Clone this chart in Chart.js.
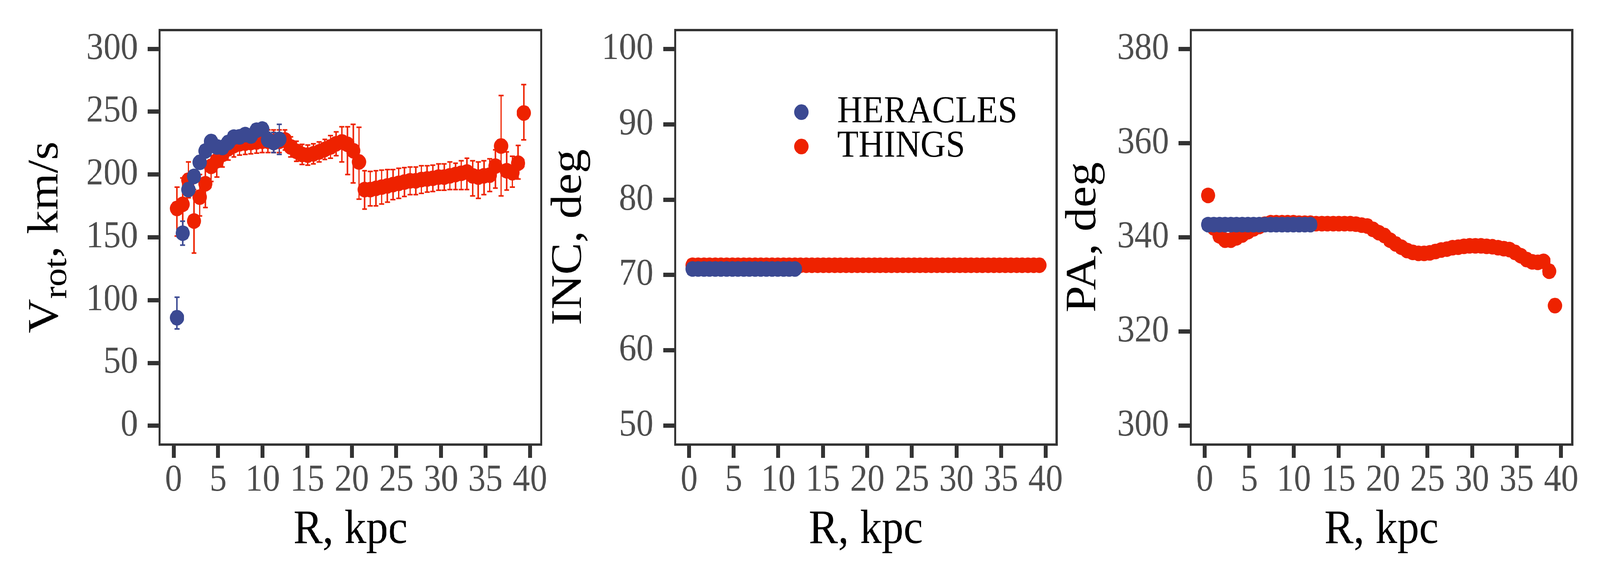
<!DOCTYPE html>
<html>
<head>
<meta charset="utf-8">
<script src="https://cdn.jsdelivr.net/npm/chart.js@4.4.1/dist/chart.umd.min.js"></script>
<style>
    html, body { margin: 0; padding: 0; background: #ffffff; overflow: hidden; }
    #wrap { position: relative; width: 4500px; height: 1500px; overflow: hidden; background: #ffffff; transform-origin: 0 0; }
    #wrap canvas { position: absolute; top: 0; }
</style>
</head>
<body>
<div id="wrap">
    <canvas id="chart1" width="1600" height="1500" style="left:0px"></canvas>
    <canvas id="chart2" width="1600" height="1500" style="left:1450px"></canvas>
    <canvas id="chart3" width="1600" height="1500" style="left:2900px"></canvas>
</div>
<script>
// radii, kpc
const rThings = [
    0.38, 1.02, 1.66, 2.29, 2.93, 3.57, 4.21, 4.85, 5.48, 6.12,
    6.76, 7.40, 8.04, 8.67, 9.31, 9.95, 10.59, 11.23, 11.86, 12.50,
    13.14, 13.78, 14.42, 15.05, 15.69, 16.33, 16.97, 17.61, 18.24, 18.88,
    19.52, 20.16, 20.80, 21.43, 22.07, 22.71, 23.35, 23.99, 24.62, 25.26,
    25.90, 26.54, 27.18, 27.81, 28.45, 29.09, 29.73, 30.37, 31.00, 31.64,
    32.28, 32.92, 33.56, 34.19, 34.83, 35.47, 36.11, 36.75, 37.38, 38.02,
    38.66, 39.30
];
const rHeracles = [
    0.38, 1.02, 1.66, 2.29, 2.93, 3.57, 4.21, 4.85, 5.48, 6.12,
    6.76, 7.40, 8.04, 8.67, 9.31, 9.95, 10.59, 11.23, 11.86
];

// rotation velocity, km/s
const vThings = [
    173, 176.3, 195.5, 163, 182, 192.7, 206.5, 211, 216, 220.5,
    223, 224.5, 225, 225.5, 226, 226.5, 226.5, 226.5, 226.5, 227.5,
    222, 218.5, 216, 215.5, 216.5, 218, 220, 222, 224.5, 226,
    224, 219, 210, 188, 188, 189, 190, 191, 192, 193,
    194, 195, 195, 196, 196.5, 197, 198, 198, 199, 200,
    201, 202, 199, 198, 199, 199.5, 206.7, 222.7, 203, 201.5,
    209, 249
];
const vThingsErrLo = [
    22, 20, 14, 25.5, 15, 19, 12, 13, 10, 9,
    9, 9, 9, 9, 9, 9, 9, 9, 9, 8,
    8, 8, 8, 8, 8, 8, 8, 9, 9.5, 16,
    24, 25.7, 29.6, 15.5, 13, 14, 13.5, 13, 12, 12,
    11.5, 11, 11, 11, 10.5, 10.5, 10.5, 10.5, 11, 12,
    13, 14, 16, 17, 15, 13, 17.5, 39.7, 15.4, 11.5,
    12.6, 21.4
];
const vThingsErrHi = [
    17, 21, 14.5, 25, 18, 15, 12, 12, 10, 9,
    9, 9, 9, 9, 9, 9, 9, 9, 9, 8,
    8, 8, 8, 8, 8, 8, 8, 9, 9.5, 12,
    14, 21, 27.6, 15, 14.5, 14, 13.5, 13, 12, 12,
    11.5, 11, 11, 11, 10.5, 10.5, 10.5, 10.5, 11, 9,
    10, 11, 12, 12, 12, 13, 13, 40.2, 15, 13,
    14.2, 22.6
];
const vHeracles = [
    86, 153.3, 188, 198.5, 209.7, 218.7, 226.3, 222, 221.5, 225.5,
    229.8, 230, 231.8, 230.7, 235.3, 236.2, 227.6, 225.5, 228
];
const vHeraclesErrLo = [8.9, 9.5, 4, 4, 4, 4, 4, 4, 4, 4, 4, 4, 4, 4, 4, 4, 6, 8, 12];
const vHeraclesErrHi = [16.3, 9.5, 4, 4, 4, 4, 4, 4, 4, 4, 4, 4, 4, 4, 4, 4, 6, 8, 12];

// inclination, deg
const incThings = [
    71.3, 71.3, 71.3, 71.3, 71.3, 71.3, 71.3, 71.3, 71.3, 71.3,
    71.3, 71.3, 71.3, 71.3, 71.3, 71.3, 71.3, 71.3, 71.3, 71.3,
    71.3, 71.3, 71.3, 71.3, 71.3, 71.3, 71.3, 71.3, 71.3, 71.3,
    71.3, 71.3, 71.3, 71.3, 71.3, 71.3, 71.3, 71.3, 71.3, 71.3,
    71.3, 71.3, 71.3, 71.3, 71.3, 71.3, 71.3, 71.3, 71.3, 71.3,
    71.3, 71.3, 71.3, 71.3, 71.3, 71.3, 71.3, 71.3, 71.3, 71.3,
    71.3, 71.3
];
const incHeracles = [
    70.8, 70.8, 70.8, 70.8, 70.8, 70.8, 70.8, 70.8, 70.8, 70.8,
    70.8, 70.8, 70.8, 70.8, 70.8, 70.8, 70.8, 70.8, 70.8
];

// position angle, deg
const paThings = [
    348.9, 342, 340.3, 339.4, 339.4, 339.9, 340.5, 341.2, 341.8, 342.3,
    342.8, 343.1, 343.1, 343.1, 343.1, 343.1, 343.0, 343.0, 343.0, 342.9,
    342.9, 342.9, 342.9, 342.9, 342.9, 342.9, 342.8, 342.6, 342.4, 341.7,
    341.0, 340.4, 339.4, 338.6, 337.9, 337.2, 336.8, 336.6, 336.6, 336.7,
    337.0, 337.3, 337.5, 337.8, 337.9, 338.1, 338.2, 338.2, 338.2, 338.1,
    338.0, 337.8, 337.6, 337.4, 336.8, 336.1, 335.3, 334.8, 334.7, 334.9,
    332.8, 325.5
];
const paHeracles = [
    342.7, 342.7, 342.7, 342.7, 342.7, 342.7, 342.7, 342.7, 342.7, 342.7,
    342.7, 342.7, 342.7, 342.7, 342.7, 342.7, 342.7, 342.7, 342.7
];

// tick labels
const rTicks = [0, 5, 10, 15, 20, 25, 30, 35, 40];
const vTicks = [0, 50, 100, 150, 200, 250, 300];
const incTicks = [50, 60, 70, 80, 90, 100];
const paTicks = [300, 320, 340, 360, 380];

const colHeracles = '#3B4992';
const colThings = '#EE2200';
const inkColor = '#333333';
const tickTextColor = '#4D4D4D';
const fontFamily = '"Liberation Serif", "Times New Roman", serif';

Chart.defaults.font.family = fontFamily;

// the figure is laid out at 4500 px; squeeze it if the window is narrower
(function fitWidth() {
    var s = Math.min(1, window.innerWidth / 4500);
    document.getElementById('wrap').style.transform = 'scale(' + s + ', 1)';
})();

function expandRange(lo, hi) {
    var d = (hi - lo) * 0.05;
    return [lo - d, hi + d];
}

function toPoints(xs, ys) {
    return xs.map(function (x, i) {
        return { x: x, y: ys[i] };
    });
}

const xLim = expandRange(Math.min(rThings[0], rHeracles[0]), Math.max(rThings[rThings.length - 1], rHeracles[rHeracles.length - 1]));

// vertical error bars, drawn under the points
const errorBars = {
    id: 'errorBars',
    beforeDatasetsDraw: function (chart) {
        const ctx = chart.ctx;
        const xs = chart.scales.x;
        const ys = chart.scales.y;
        ctx.save();
        ctx.lineWidth = 4;
        for (let i = chart.data.datasets.length - 1; i >= 0; i--) {
            const ds = chart.data.datasets[i];
            if (!ds.errLo) continue;
            ctx.strokeStyle = ds.backgroundColor;
            ds.data.forEach(function (p, j) {
                const x = xs.getPixelForValue(p.x);
                const y1 = ys.getPixelForValue(p.y - ds.errLo[j]);
                const y2 = ys.getPixelForValue(p.y + ds.errHi[j]);
                ctx.beginPath();
                ctx.moveTo(x, y1);
                ctx.lineTo(x, y2);
                ctx.moveTo(x - 7, y1);
                ctx.lineTo(x + 7, y1);
                ctx.moveTo(x - 7, y2);
                ctx.lineTo(x + 7, y2);
                ctx.stroke();
            });
        }
        ctx.restore();
    }
};

// full frame round the panel
const panelBox = {
    id: 'panelBox',
    afterDatasetsDraw: function (chart) {
        const a = chart.chartArea;
        const ctx = chart.ctx;
        ctx.save();
        ctx.strokeStyle = inkColor;
        ctx.lineWidth = 6;
        ctx.strokeRect(a.left, a.top, a.right - a.left, a.bottom - a.top);
        ctx.restore();
    }
};

// rotated y title; parts may be subscripted
function makeYTitle(parts, gap) {
    return {
        id: 'yTitle',
        afterDraw: function (chart) {
            const a = chart.chartArea;
            const ctx = chart.ctx;
            ctx.save();
            ctx.translate(a.left - gap, (a.top + a.bottom) / 2);
            ctx.rotate(-Math.PI / 2);
            ctx.fillStyle = '#000000';
            ctx.textBaseline = 'alphabetic';
            ctx.textAlign = 'left';
            let total = 0;
            parts.forEach(function (p) {
                ctx.font = p[1] + 'px ' + fontFamily;
                total += ctx.measureText(p[0]).width;
            });
            let x = -total / 2;
            parts.forEach(function (p) {
                ctx.font = p[1] + 'px ' + fontFamily;
                ctx.fillText(p[0], x, p[2]);
                x += ctx.measureText(p[0]).width;
            });
            ctx.restore();
        }
    };
}

// legend inside the INC panel
function makeLegend(top, rowGap, dotX, textX) {
    return {
        id: 'pointLegend',
        afterDraw: function (chart) {
            const a = chart.chartArea;
            const ctx = chart.ctx;
            ctx.save();
            ctx.font = '98px ' + fontFamily;
            ctx.textBaseline = 'middle';
            ctx.textAlign = 'left';
            chart.data.datasets.forEach(function (ds, i) {
                const cy = a.top + top + i * rowGap;
                ctx.fillStyle = ds.backgroundColor;
                ctx.beginPath();
                ctx.arc(a.left + dotX, cy, 20, 0, 2 * Math.PI);
                ctx.fill();
                ctx.fillStyle = '#000000';
                ctx.fillText(ds.label, a.left + textX, cy);
            });
            ctx.restore();
        }
    };
}

function makeDatasets(yHeracles, yThings, withErrors) {
    const heracles = {
        label: 'HERACLES',
        data: toPoints(rHeracles, yHeracles),
        backgroundColor: colHeracles,
        borderColor: colHeracles,
        order: 0
    };
    const things = {
        label: 'THINGS',
        data: toPoints(rThings, yThings),
        backgroundColor: colThings,
        borderColor: colThings,
        order: 1
    };
    if (withErrors) {
        heracles.errLo = vHeraclesErrLo;
        heracles.errHi = vHeraclesErrHi;
        things.errLo = vThingsErrLo;
        things.errHi = vThingsErrHi;
    }
    return [heracles, things];
}

function tickGrid() {
    return {
        display: true,
        drawOnChartArea: false,
        drawTicks: true,
        tickLength: 34,
        lineWidth: 11,
        tickWidth: 11,
        color: inkColor,
        tickColor: inkColor
    };
}

function makePanel(canvasId, datasets, yTicks, extra) {
    const yLim = expandRange(yTicks[0], yTicks[yTicks.length - 1]);
    return new Chart(document.getElementById(canvasId), {
        type: 'scatter',
        data: { datasets: datasets },
        options: {
            responsive: false,
            animation: false,
            devicePixelRatio: 1,
            events: [],
            layout: { padding: { top: 77, right: 78, bottom: 0, left: 0 } },
            elements: {
                point: { radius: 20, hoverRadius: 20, borderWidth: 0, pointStyle: 'circle' }
            },
            plugins: {
                legend: { display: false },
                tooltip: { enabled: false }
            },
            scales: {
                x: {
                    type: 'linear',
                    position: 'bottom',
                    min: xLim[0],
                    max: xLim[1],
                    afterBuildTicks: function (scale) {
                        scale.ticks = rTicks.map(function (v) { return { value: v }; });
                    },
                    afterFit: function (scale) {
                        scale.height = 362;
                    },
                    grid: tickGrid(),
                    border: { display: false },
                    ticks: {
                        autoSkip: false,
                        maxRotation: 0,
                        padding: 10,
                        color: tickTextColor,
                        font: { size: 97, lineHeight: 1 }
                    },
                    title: {
                        display: true,
                        text: 'R, kpc',
                        color: '#000000',
                        font: { size: 123, lineHeight: 1 },
                        padding: { top: 0, bottom: 81 }
                    }
                },
                y: {
                    type: 'linear',
                    position: 'left',
                    min: yLim[0],
                    max: yLim[1],
                    afterBuildTicks: function (scale) {
                        scale.ticks = yTicks.map(function (v) { return { value: v }; });
                    },
                    afterFit: function (scale) {
                        scale.width = 449;
                    },
                    grid: tickGrid(),
                    border: { display: false },
                    ticks: {
                        autoSkip: false,
                        padding: 27,
                        color: tickTextColor,
                        font: { size: 97, lineHeight: 1 }
                    }
                }
            }
        },
        plugins: [errorBars, panelBox].concat(extra)
    });
}

makePanel('chart1', makeDatasets(vHeracles, vThings, true), vTicks,
    [makeYTitle([['V', 122, 0], ['rot', 94, 24], [', km/s', 122, 0]], 287)]);
makePanel('chart2', makeDatasets(incHeracles, incThings, false), incTicks,
    [makeYTitle([['INC, deg', 123, 0]], 265), makeLegend(210, 88, 355, 456)]);
makePanel('chart3', makeDatasets(paHeracles, paThings, false), paTicks,
    [makeYTitle([['PA, deg', 123, 0]], 268)]);
</script>
</body>
</html>
